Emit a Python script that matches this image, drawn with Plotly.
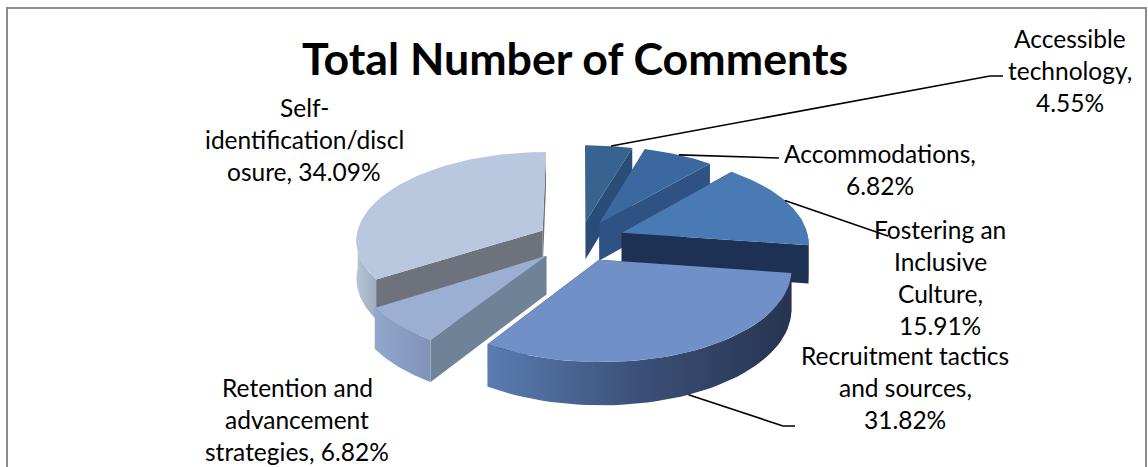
import math
import plotly.graph_objects as go

# Share of comments per theme, clockwise from twelve o'clock
categories = ["Accessible technology", "Accommodations", "Fostering an Inclusive Culture",
              "Recruitment tactics and sources", "Retention and advancement strategies",
              "Self-identification/disclosure"]
shares = [4.55, 6.82, 15.91, 31.82, 6.82, 34.09]
label_lines = [["Accessible", "technology,"], ["Accommodations,"],
               ["Fostering an", "Inclusive", "Culture,"], ["Recruitment tactics", "and sources,"],
               ["Retention and", "advancement", "strategies,"], ["Self-", "identification/discl", "osure,"]]
title_text = "Total Number of Comments"

# Slice colours: top face, cut face, rim stops running left to right
top_colors = ["#38628f", "#3b699f", "#4a7ab3", "#7090c7", "#9bafd3", "#b9c8de"]
cut_colors = ["#2a4d78", "#2d5283", "#1c3153", "#1c3153", "#6e8298", "#6d727d"]
rim_colors = [("#2a4d78", "#2a4d78"), ("#2d5283", "#2d5283"), ("#1c3153", "#1c3153"),
              ("#5a7cb2", "#3b5078", "#26344f"), ("#93a7cd", "#7f93b8"), ("#b7c4d8", "#9fadc1")]

# View of the exploded disc
CX, CY = 580, 240
SCALE_X, SCALE_Y = 187, 88
PERSPECTIVE = 0.10
THICK = 38
EXPLODE = [0.21, 0.22, 0.24, 0.24, 0.25, 0.23]


def project(u, v, lift=0.0):
    w = 1 / (1 + PERSPECTIVE * v)
    return CX + SCALE_X * u * w, CY - SCALE_Y * v * w + THICK * w * lift


def angle_steps(a, b, n=48):
    return [a + (b - a) * i / n for i in range(n + 1)]


def disc_point(theta, mid, explode, r=1.0):
    return (explode * math.sin(mid) + r * math.sin(theta),
            explode * math.cos(mid) + r * math.cos(theta))


def polygon(points, **style):
    xs, ys = zip(*points)
    return go.Scatter(x=list(xs) + [xs[0]], y=list(ys) + [ys[0]], mode="lines", fill="toself",
                      line=dict(width=0), hoverinfo="skip", showlegend=False, **style)


def wedge_traces(start, end, explode, top, cut, rim):
    mid = (start + end) / 2
    tip = disc_point(0, mid, explode, 0)
    traces = []
    for edge in (start, end):
        corner = disc_point(edge, mid, explode)
        traces.append(polygon([project(*tip), project(*corner), project(*corner, 1), project(*tip, 1)],
                              fillcolor=cut))
    low, high = max(start, math.pi / 2), min(end, 1.5 * math.pi)
    if high > low:
        arc = [disc_point(t, mid, explode) for t in angle_steps(low, high)]
        outline = [project(*p) for p in arc] + [project(*p, 1) for p in reversed(arc)]
        stops = [[k / (len(rim) - 1), c] for k, c in enumerate(rim)]
        traces.append(polygon(outline, fillgradient=dict(type="horizontal", colorscale=stops)))
    rim_arc = [disc_point(t, mid, explode) for t in angle_steps(start, end)]
    traces.append(polygon([project(*tip)] + [project(*p) for p in rim_arc], fillcolor=top))
    return traces


total = sum(shares)
edges = [0.0]
for s in shares:
    edges.append(edges[-1] + 2 * math.pi * s / total)

fig = go.Figure()
# Paint from the back of the disc towards the viewer
for i in [0, 1, 5, 2, 4, 3]:
    for tr in wedge_traces(edges[i], edges[i + 1], EXPLODE[i], top_colors[i], cut_colors[i], rim_colors[i]):
        fig.add_trace(tr)

# Leader lines start on the slice rim at a fraction of its sweep
leader_layout = [
    (0.55, 0, [(990, 76), (1003, 76)]),
    (0.50, 0, [(779, 158)]),
    (0.46, 0, [(888, 236)]),
    (0.50, 1, [(783, 426), (795, 426)]),
]
for i, (frac, lift, tail) in enumerate(leader_layout):
    mid = (edges[i] + edges[i + 1]) / 2
    theta = edges[i] + frac * (edges[i + 1] - edges[i])
    start = project(*disc_point(theta, mid, EXPLODE[i]), lift)
    pts = [start] + tail
    fig.add_trace(go.Scatter(x=[p[0] for p in pts], y=[p[1] for p in pts], mode="lines",
                             line=dict(color="#000000", width=1.6), hoverinfo="skip", showlegend=False))

# Label centres and the frame are page furniture in pixel units
label_layout = [(1070, 38), (880, 153), (940, 229), (905, 355), (297, 387), (304, 107)]
LINE_STEP = 32.3
annotations = []
for i, (x, y) in enumerate(label_layout):
    lines = label_lines[i]
    pct = f"{shares[i]:.2f}%"
    if i == 5 or i == 4:
        rows = lines[:-1] + [f"{lines[-1]} {pct}"]
    else:
        rows = lines + [pct]
    for k, row in enumerate(rows):
        annotations.append(dict(x=x, y=y + k * LINE_STEP, xref="x", yref="y", text=row, showarrow=False,
                                xanchor="center", yanchor="middle",
                                font=dict(family="Lato", size=24.5, color="#000000")))
annotations.append(dict(x=575, y=58, xref="x", yref="y", text=f"<b>{title_text}</b>", showarrow=False,
                        xanchor="center", yanchor="middle",
                        font=dict(family="Lato", size=44.7, color="#000000")))

fig.update_layout(
    width=1148, height=467, margin=dict(l=0, r=0, t=0, b=0),
    paper_bgcolor="#ffffff", plot_bgcolor="#ffffff", annotations=annotations,
    xaxis=dict(range=[0, 1148], visible=False, fixedrange=True),
    yaxis=dict(range=[467, 0], visible=False, fixedrange=True),
    shapes=[dict(type="path", path="M 7 467 L 7 8 L 1146 8 L 1146 467", xref="x", yref="y",
                 line=dict(color="#8c8c8c", width=2))],
)
fig.write_html("out.html")
